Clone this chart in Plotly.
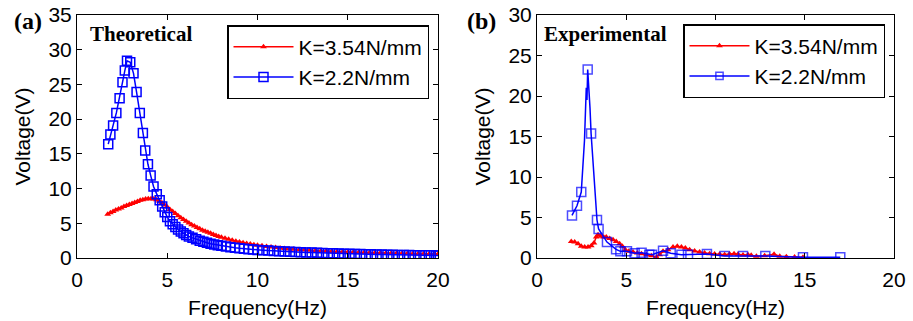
import plotly.graph_objects as go

# ---- Theoretical response ----
theo_f_soft = [1.73, 1.85, 2.0, 2.18, 2.36, 2.52, 2.65, 2.77, 2.95, 3.13, 3.30, 3.48, 3.65, 3.78,
               3.93, 4.08, 4.24, 4.42, 4.58, 4.72, 4.86, 5.0, 5.15, 5.3, 5.45, 5.6, 5.75, 5.9,
               6.05, 6.2, 6.4, 6.6, 6.8, 7.0, 7.2, 7.4, 7.6, 7.8, 8.0, 8.25, 8.5, 8.75, 9.0,
               9.25, 9.5, 9.75, 10.0, 10.3, 10.6, 10.9, 11.2, 11.5, 11.8, 12.1, 12.4, 12.7,
               13.0, 13.3, 13.6, 13.9, 14.2, 14.5, 14.8, 15.1, 15.4, 15.7, 16.0, 16.3, 16.6,
               16.9, 17.2, 17.5, 17.8, 18.1, 18.4, 18.7, 19.0, 19.3, 19.6, 19.9, 20.0]
theo_v_soft = [16.4, 17.8, 19.1, 20.9, 23.0, 25.3, 27.0, 28.4, 28.2, 26.6, 23.9, 20.9, 18.0, 15.5,
               13.5, 11.9, 10.3, 9.2, 8.3, 7.4, 6.6, 5.9, 5.3, 4.85, 4.45, 4.1, 3.8, 3.55,
               3.3, 3.1, 2.9, 2.7, 2.5, 2.35, 2.2, 2.05, 1.95, 1.85, 1.75, 1.65, 1.55, 1.47, 1.4,
               1.33, 1.27, 1.22, 1.17, 1.12, 1.07, 1.02, 0.98, 0.94, 0.9, 0.87, 0.84, 0.81,
               0.78, 0.75, 0.72, 0.70, 0.67, 0.65, 0.63, 0.61, 0.59, 0.57, 0.55, 0.53, 0.51,
               0.5, 0.48, 0.47, 0.45, 0.44, 0.43, 0.41, 0.40, 0.39, 0.38, 0.37, 0.36]

theo_f_stiff = [1.7, 1.85, 2.0, 2.15, 2.3, 2.45, 2.6, 2.75, 2.9, 3.05, 3.2, 3.35, 3.5, 3.65, 3.8,
                3.95, 4.1, 4.25, 4.4, 4.55, 4.7, 4.85, 5.0, 5.15, 5.3, 5.45, 5.6, 5.75, 5.9,
                6.05, 6.2, 6.35, 6.5, 6.65, 6.8, 6.95, 7.1, 7.25, 7.4, 7.55, 7.7, 7.85, 8.0,
                8.2, 8.4, 8.6, 8.8, 9.0, 9.2, 9.4, 9.6, 9.8, 10.0, 10.25, 10.5, 10.75, 11.0,
                11.25, 11.5, 11.75, 12.0, 12.3, 12.6, 12.9, 13.2, 13.5, 13.8, 14.1, 14.4, 14.7,
                15.0, 15.3, 15.6, 15.9, 16.2, 16.5, 16.8, 17.1, 17.4, 17.7, 18.0, 18.3, 18.6,
                18.9, 19.2, 19.5, 19.8, 20.0]
theo_v_stiff = [6.3, 6.5, 6.7, 6.9, 7.05, 7.2, 7.4, 7.55, 7.7, 7.85, 8.0, 8.15, 8.3, 8.4, 8.5,
                8.55, 8.55, 8.5, 8.4, 8.2, 7.95, 7.65, 7.35, 7.0, 6.7, 6.4, 6.1, 5.8, 5.55,
                5.3, 5.05, 4.8, 4.6, 4.4, 4.2, 4.0, 3.85, 3.7, 3.55, 3.4, 3.25, 3.1, 3.0,
                2.85, 2.7, 2.55, 2.42, 2.3, 2.2, 2.1, 2.0, 1.92, 1.85, 1.75, 1.66, 1.58, 1.5,
                1.43, 1.37, 1.31, 1.26, 1.2, 1.15, 1.1, 1.05, 1.01, 0.97, 0.94, 0.91, 0.88,
                0.85, 0.82, 0.8, 0.78, 0.76, 0.74, 0.72, 0.7, 0.68, 0.67, 0.65, 0.64, 0.62,
                0.61, 0.6, 0.59, 0.58, 0.57]

# ---- Experimental response ----
exp_f_soft = [1.96, 2.24, 2.48, 2.66, 2.76, 2.80, 2.84, 2.92, 2.97, 3.03, 3.2, 3.36, 3.45, 3.92,
              4.43, 4.67, 5.04, 5.47, 5.86, 6.29, 6.44, 7.06, 7.49, 8.09, 8.46, 9.52, 10.51,
              11.54, 12.79, 14.9, 16.99]
exp_v_soft = [5.26, 6.45, 8.14, 14.5, 21.0, 19.5, 23.26, 21.0, 18.5, 15.37, 9.5, 4.69, 3.58, 1.97,
              1.07, 0.82, 0.82, 0.58, 0.66, 0.41, 0.41, 0.9, 0.58, 0.41, 0.41, 0.49, 0.25,
              0.25, 0.25, 0.08, 0.08]
# True where a square marker is shown on the measured point
exp_mark_soft = [True, True, True, False, False, False, True, False, False, True, False, True,
                 True, True, True, True, True, True, True, True, True, True, True, True, True,
                 True, True, True, True, True, True]

exp_f_stiff = [1.92, 2.11, 2.3, 2.48, 2.67, 2.86, 3.04, 3.19, 3.32, 3.42, 3.57, 3.73, 3.88, 4.07,
               4.26, 4.44, 4.63, 4.78, 4.95, 5.14, 5.38, 5.62, 5.85, 6.13, 6.41, 6.69, 6.87,
               7.06, 7.34, 7.62, 7.86, 8.09, 8.31, 8.55, 8.83, 9.11, 9.39, 9.67, 9.95, 10.23,
               10.51, 10.79, 11.04, 11.26, 11.54, 11.82, 12.0, 12.29, 12.75, 13.28, 13.6,
               13.97, 14.43, 14.9]
exp_v_stiff = [2.05, 1.97, 1.77, 1.44, 1.36, 1.36, 1.52, 1.85, 2.59, 2.88, 2.67, 2.59, 2.59, 2.42,
               2.26, 2.05, 1.77, 1.44, 1.03, 0.82, 0.74, 0.62, 0.53, 0.41, 0.29, 0.1, 0.41,
               0.82, 1.03, 1.36, 1.44, 1.36, 1.23, 1.03, 0.86, 0.74, 0.62, 0.53, 0.49, 0.45,
               0.41, 0.49, 0.53, 0.45, 0.37, 0.41, 0.33, 0.21, 0.29, 0.45, 0.21,
               0.16, 0.12, 0.08]

series_names = ["K=3.54N/mm", "K=2.2N/mm"]
RED = "#ff0000"
BLUE = "#0000ff"
W, H = 913, 321

fig = go.Figure()

# panel (a)
fig.add_trace(go.Scatter(x=theo_f_stiff, y=theo_v_stiff, name=series_names[0], mode="lines+markers",
                         line=dict(color=RED, width=1.5),
                         marker=dict(symbol="triangle-up", size=6, color=RED),
                         xaxis="x", yaxis="y", legend="legend"))
fig.add_trace(go.Scatter(x=theo_f_soft, y=theo_v_soft, name=series_names[1], mode="lines+markers",
                         line=dict(color=BLUE, width=1.5),
                         marker=dict(symbol="square-open", size=9, color=BLUE, line=dict(width=1.5)),
                         xaxis="x", yaxis="y", legend="legend"))

# panel (b)
fig.add_trace(go.Scatter(x=exp_f_stiff, y=exp_v_stiff, name=series_names[0], mode="lines+markers",
                         line=dict(color=RED, width=1.5),
                         marker=dict(symbol="triangle-up", size=6, color=RED),
                         xaxis="x2", yaxis="y2", legend="legend2"))
fig.add_trace(go.Scatter(x=exp_f_soft, y=exp_v_soft, name=series_names[1], mode="lines+markers",
                         line=dict(color=BLUE, width=1.5),
                         marker=dict(symbol="square-open", color=BLUE, line=dict(width=1.5),
                                     size=[9 if m else 0 for m in exp_mark_soft]),
                         xaxis="x2", yaxis="y2", legend="legend2"))

sans = "Liberation Sans, Arial, sans-serif"
tick_font = dict(family=sans, size=21, color="black")
axis_common = dict(showline=True, linecolor="black", linewidth=1, mirror="ticks",
                   ticks="inside", ticklen=5, tickcolor="black", showgrid=False,
                   zeroline=False, tickfont=tick_font, automargin=False)
xtitle = dict(text="Frequency(Hz)", font=tick_font, standoff=10)
ytitle = dict(text="Voltage(V)", font=tick_font, standoff=12)
legend_common = dict(xanchor="right", yanchor="top", bordercolor="black", borderwidth=1.5,
                     bgcolor="white", font=dict(family=sans, size=21, color="black"),
                     tracegroupgap=0, itemwidth=60)

fig.update_layout(
    width=W, height=H,
    margin=dict(l=0, r=0, t=15, b=63),
    paper_bgcolor="white", plot_bgcolor="white",
    font=tick_font,
    xaxis=dict(axis_common, domain=[77 / W, 438 / W], range=[0, 20], tickvals=[0, 5, 10, 15, 20],
               ticklabelstandoff=3, title=xtitle, anchor="y"),
    yaxis=dict(axis_common, domain=[0, 1], range=[0, 35], tickvals=[0, 5, 10, 15, 20, 25, 30, 35],
               title=ytitle, anchor="x"),
    xaxis2=dict(axis_common, domain=[537 / W, 894 / W], range=[0, 20], tickvals=[0, 5, 10, 15, 20],
                ticklabelstandoff=3, title=xtitle, anchor="y2"),
    yaxis2=dict(axis_common, domain=[0, 1], range=[0, 30], tickvals=[0, 5, 10, 15, 20, 25, 30],
                title=ytitle, anchor="x2"),
    legend=dict(legend_common, x=429 / W, y=(258 - 25) / 243),
    legend2=dict(legend_common, x=885 / W, y=(258 - 24) / 243),
    showlegend=True,
)

serif_bold = dict(family="Liberation Serif, Times New Roman, serif", color="black")
annotations = [
    dict(text="<b>(a)</b>", x=12 / W, y=(258 - 21) / 243, font=dict(serif_bold, size=24)),
    dict(text="<b>Theoretical</b>", x=88 / W, y=(258 - 34) / 243, font=dict(serif_bold, size=21)),
    dict(text="<b>(b)</b>", x=465 / W, y=(258 - 21) / 243, font=dict(serif_bold, size=24)),
    dict(text="<b>Experimental</b>", x=542 / W, y=(258 - 34) / 243, font=dict(serif_bold, size=21)),
]
for a in annotations:
    fig.add_annotation(xref="paper", yref="paper", xanchor="left", yanchor="middle",
                       showarrow=False, **a)

fig.write_html("out.html")
